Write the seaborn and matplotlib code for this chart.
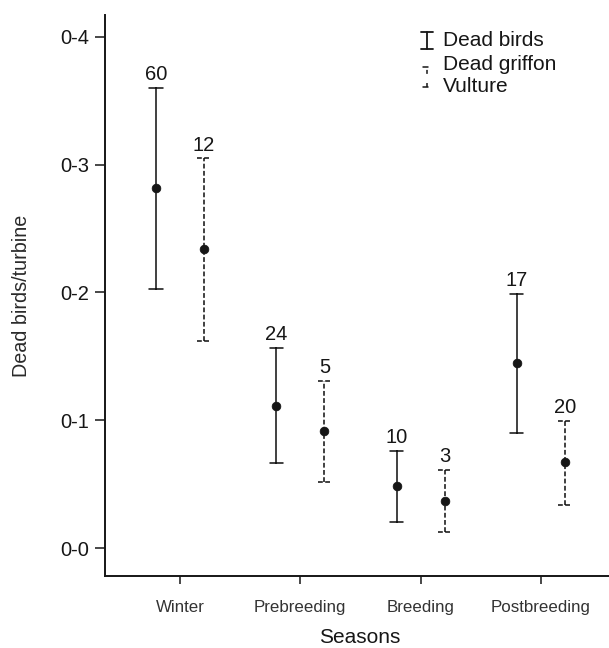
import matplotlib
matplotlib.use("Agg")
import matplotlib.pyplot as plt
import numpy as np
import pandas as pd
import seaborn as sns

# ---- data ----
seasons = ["Winter", "Prebreeding", "Breeding", "Postbreeding"]
series = ["Dead birds", "Vulture"]

birds_mean = [0.282, 0.111, 0.0485, 0.1448]
birds_low = [0.203, 0.0665, 0.0204, 0.090]
birds_high = [0.360, 0.1566, 0.0759, 0.1988]
birds_n = [60, 24, 10, 17]

vult_mean = [0.234, 0.0916, 0.0368, 0.0673]
vult_low = [0.162, 0.0517, 0.0125, 0.0337]
vult_high = [0.305, 0.1307, 0.0611, 0.0994]
vult_n = [12, 5, 3, 20]

ytick_vals = [0.0, 0.1, 0.2, 0.3, 0.4]
ytick_labels = ["0-0", "0-1", "0-2", "0-3", "0-4"]


def long_table(name, lo, mid, hi):
    rows = []
    for s, a, b, c in zip(seasons, lo, mid, hi):
        for v in (a, b, c):
            rows.append({"Season": s, "Series": name, "value": v})
    return pd.DataFrame(rows)


df_birds = long_table("Dead birds", birds_low, birds_mean, birds_high)
df_vult = long_table("Vulture", vult_low, vult_mean, vult_high)

sns.set_theme(style="ticks")
plt.rcParams["font.family"] = ["Liberation Sans", "DejaVu Sans"]

fig = plt.figure(figsize=(6.09, 6.48), dpi=100)
ax = fig.add_axes([105 / 609, 72 / 648, 504 / 609, 561 / 648])

ink = "#161616"
palette = {"Dead birds": ink, "Vulture": ink}


def minmax(v):
    return (np.min(v), np.max(v))


for data, ls, counts, highs in [
    (df_birds, "-", birds_n, birds_high),
    (df_vult, (0, (3.0, 1.5)), vult_n, vult_high),
]:
    n_before = len(ax.lines)
    sns.pointplot(
        data=data, x="Season", y="value", hue="Series",
        order=seasons, hue_order=series, palette=palette,
        estimator="median", errorbar=minmax,
        dodge=0.4, capsize=0.11, linestyle="none",
        markers="o", markersize=6.2, markeredgewidth=0.6,
        linewidth=1.15,
        err_kws={"linestyle": ls, "linewidth": 1.15, "zorder": 1.5},
        legend=False, ax=ax,
    )
    new_lines = ax.lines[n_before:]
    pt_line = [ln for ln in new_lines
               if ln.get_marker() == "o" and len(ln.get_xdata()) == len(seasons)][0]
    pt_line.set_zorder(3)
    xs = pt_line.get_xdata()
    for x, n, h in zip(xs, counts, highs):
        ax.annotate(str(n), (x, h), xytext=(0, 5.5), textcoords="offset points",
                    ha="center", va="baseline", fontsize=14.5, color=ink)

ax.set_xlim(-0.6234, 3.566)
ax.set_ylim(-0.0219, 0.4172)
ax.set_yticks(ytick_vals)
ax.set_yticklabels(ytick_labels)

sns.despine(ax=ax)
for sp in ("left", "bottom"):
    ax.spines[sp].set_linewidth(1.4)
    ax.spines[sp].set_color(ink)

ax.tick_params(axis="y", direction="out", length=7.2, width=1.1, pad=4.3,
               labelsize=14.5, colors=ink)
ax.tick_params(axis="x", direction="out", length=6, width=1.1, pad=11,
               labelsize=12.2, colors=ink)
for t in ax.get_xticklabels():
    t.set_color("#333333")

ax.set_xlabel("Seasons", fontsize=15, color=ink)
ax.set_ylabel("Dead birds/turbine", fontsize=14.2, color="#2a2a2a")
ax.xaxis.set_label_coords(0.506, -0.093)
ax.yaxis.set_label_coords(-0.146, 0.5)

# ---- legend (drawn in axes fraction coordinates) ----
tr = ax.transAxes
lx = (427 - 105) / 504
cw = 6 / 504
ax.plot([lx, lx], [0.939, 0.970], color=ink, lw=1.3, transform=tr, clip_on=False)
ax.plot([lx - cw, lx + cw], [0.970, 0.970], color=ink, lw=1.3, transform=tr, clip_on=False)
ax.plot([lx - cw, lx + cw], [0.939, 0.939], color=ink, lw=1.3, transform=tr, clip_on=False)
ax.plot([lx, lx], [0.872, 0.907], color=ink, lw=1.1, ls=(0, (2.6, 6)),
        transform=tr, clip_on=False)
ax.plot([lx - cw * 0.6, lx + cw * 0.2], [0.907, 0.907], color=ink, lw=1.1, transform=tr, clip_on=False)
ax.plot([lx - cw * 0.6, lx + cw * 0.2], [0.872, 0.872], color=ink, lw=1.1, transform=tr, clip_on=False)
tx = (443 - 105) / 504
ax.text(tx, 0.955, "Dead birds", transform=tr, fontsize=15, va="center", ha="left", color=ink)
ax.text(tx, 0.912, "Dead griffon", transform=tr, fontsize=15, va="center", ha="left", color=ink)
ax.text(tx, 0.873, "Vulture", transform=tr, fontsize=15, va="center", ha="left", color=ink)

fig.savefig("out.png", dpi=100)
